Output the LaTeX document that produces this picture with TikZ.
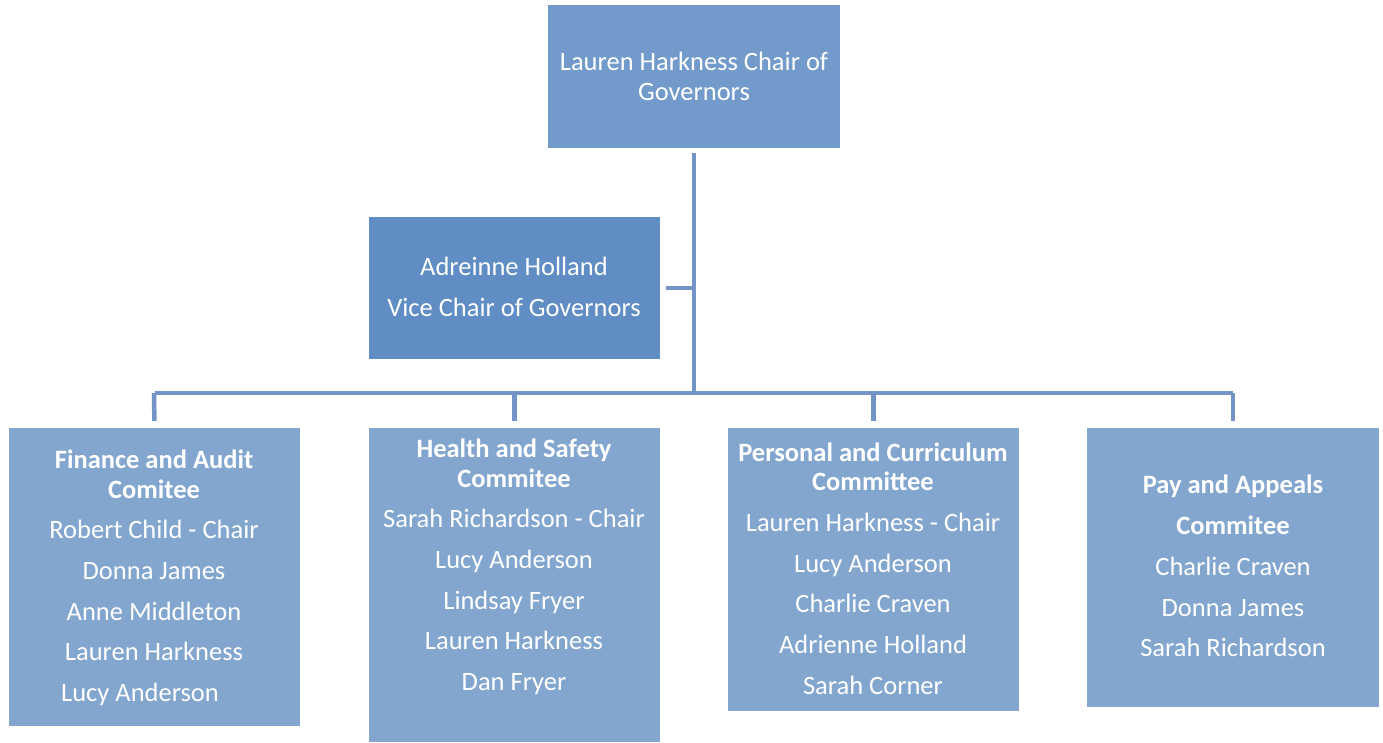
\documentclass[tikz,border=0pt]{standalone}
\usepackage{fontspec}
\setmainfont{Carlito}
\definecolor{topblue}{HTML}{729ACA}
\definecolor{viceblue}{HTML}{5F8DC4}
\definecolor{combox}{HTML}{83A6CF}
\definecolor{linecol}{HTML}{7394C7}
\begin{document}
\begin{tikzpicture}[x=1pt,y=-1pt,
  box/.style={rectangle,inner sep=0pt,outer sep=0pt,draw=none,anchor=north west},
  txt/.style={anchor=base,inner sep=0pt,text=white,font=\fontsize{26.5}{30}\selectfont},
  head/.style={txt,font=\fontsize{26.5}{30}\selectfont\bfseries},
  conn/.style={draw=linecol,line width=4.5pt,line join=round}]
\useasboundingbox (0,0) rectangle (1383,742);
% boxes
\node[box,fill=topblue,minimum width=292pt,minimum height=143pt] (top) at (548,5) {};
\node[box,fill=viceblue,minimum width=291pt,minimum height=142pt] (vice) at (369,217) {};
\node[box,fill=combox,minimum width=291pt,minimum height=298pt] (fin) at (9,428) {};
\node[box,fill=combox,minimum width=291pt,minimum height=314pt] (hs) at (369,428) {};
\node[box,fill=combox,minimum width=291pt,minimum height=283pt] (pc) at (728,428) {};
\node[box,fill=combox,minimum width=292pt,minimum height=279pt] (pa) at (1087,428) {};
% connectors
\coordinate (hub) at (694,393);
\coordinate (lend) at (154,393);
\coordinate (rend) at (1233,393);
\draw[conn,shorten <=5pt] (top.south) -- (hub);
\draw[conn,shorten <=6pt] (vice.east) -- (vice.east -| hub);
\draw[conn] (fin.north |- hub) -- (rend);
\draw[conn,shorten >=7pt] (lend) -- (fin.north);
\draw[conn,shorten >=7pt] (hs.north |- hub) -- (hs.north);
\draw[conn,shorten >=7pt] (pc.north |- hub) -- (pc.north);
\draw[conn,shorten >=7pt] (rend) -- (pa.north);
% texts: top
\node[txt] (t1) at (694,70) {Lauren Harkness Chair of};
\node[txt] (t2) at (694,100) {Governors};
% vice
\node[txt] (v1) at (514,275) {Adreinne Holland};
\node[txt] (v2) at (514,316) {Vice Chair of Governors};
% finance
\node[head] (f1) at (154,468) {Finance and Audit};
\node[head] (f2) at (154,498) {Comitee};
\node[txt] (f3) at (154,538) {Robert Child - Chair};
\node[txt] (f4) at (154,579) {Donna James};
\node[txt] (f5) at (154,620) {Anne Middleton};
\node[txt] (f6) at (154,660) {Lauren Harkness};
\node[txt] (f7) at (140,701) {Lucy Anderson};
% health
\node[head] (h1) at (514,457) {Health and Safety};
\node[head] (h2) at (514,487) {Commitee};
\node[txt] (h3) at (514,527) {Sarah Richardson - Chair};
\node[txt] (h4) at (514,568) {Lucy Anderson};
\node[txt] (h5) at (514,609) {Lindsay Fryer};
\node[txt] (h6) at (514,649) {Lauren Harkness};
\node[txt] (h7) at (514,690) {Dan Fryer};
% personal
\node[head] (p1) at (873,461) {Personal and Curriculum};
\node[head] (p2) at (873,490) {Committee};
\node[txt] (p3) at (873,531) {Lauren Harkness - Chair};
\node[txt] (p4) at (873,572) {Lucy Anderson};
\node[txt] (p5) at (873,612) {Charlie Craven};
\node[txt] (p6) at (873,653) {Adrienne Holland};
\node[txt] (p7) at (873,694) {Sarah Corner};
% pay
\node[head] (q1) at (1233,493) {Pay and Appeals};
\node[head] (q2) at (1233,534) {Commitee};
\node[txt] (q3) at (1233,575) {Charlie Craven};
\node[txt] (q4) at (1233,616) {Donna James};
\node[txt] (q5) at (1233,656) {Sarah Richardson};
\end{tikzpicture}
\end{document}
